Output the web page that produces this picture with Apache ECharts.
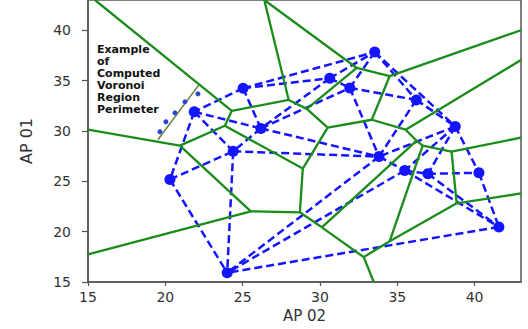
<!DOCTYPE html>
<html><head><meta charset="utf-8">
<script src="https://cdn.jsdelivr.net/npm/echarts@6/dist/echarts.min.js"></script>
<style>html,body{margin:0;padding:0;background:#fff}#c{width:528px;height:329px}</style>
</head><body><div id="c"></div>
<script>
// Access points (AP 02 = x, AP 01 = y), numbered 1..16
const apX = [33.54,30.63,31.93,25.03,36.23,21.87,26.18,38.75,24.39,33.82,20.30,35.48,36.98,40.28,41.57,24.00];
const apY = [37.83,35.23,34.27,34.24,33.08,31.90,30.25,30.45,27.98,27.45,25.18,26.07,25.74,25.84,20.47,15.92];
// Delaunay edges (1-based point numbers)
const delaunayEdges = [[4,1],[4,2],[2,1],[3,1],[2,3],[2,7],[4,7],[4,6],[6,7],[6,9],[7,9],[6,11],[11,9],[11,16],[9,16],[9,10],[7,10],[7,3],[3,10],[3,5],[1,5],[5,10],[5,8],[8,10],[10,12],[8,12],[8,13],[12,13],[8,14],[13,14],[14,15],[13,15],[12,15],[15,16],[12,16],[10,16],[1,8]];
// Voronoi vertices (incl. clipped ray ends)
const vorX = [26.40,27.98,29.15,32.38,34.51,33.35,35.54,36.25,36.64,38.51,38.84,34.51,32.83,30.12,28.70,28.89,30.50,23.85,24.30,20.94,25.53,15.45,15.00,15.00,33.48,43.00,43.00,43.00,43.00];
const vorY = [43.00,33.08,32.19,36.25,35.45,31.11,30.12,29.03,28.54,27.94,22.81,19.05,17.47,20.43,21.92,26.26,30.32,30.51,32.00,28.54,22.02,43.00,30.12,17.74,15.00,23.79,29.33,37.04,40.00];
// Voronoi edges (0-based vertex indices)
const vorEdges = [[0,1],[0,3],[1,2],[1,18],[2,3],[2,16],[3,4],[4,5],[4,28],[5,16],[5,6],[6,27],[6,7],[7,8],[7,13],[8,9],[8,11],[9,26],[9,10],[10,25],[10,11],[11,12],[12,24],[12,13],[13,14],[14,15],[14,20],[15,16],[15,17],[17,18],[17,19],[18,21],[19,22],[19,20],[20,23]];
// Example perimeter illustration
const exampleEdgeX = [19.52,22.17];
const exampleEdgeY = [29.13,34.57];
const perimDotX = [19.65,20.04,20.62,21.27,22.11];
const perimDotY = [29.92,30.91,31.80,32.89,33.68];
// Axis ticks
const xTicks = [15,20,25,30,35,40];
const yTicks = [15,20,25,30,35,40];
const xName = 'AP 02';
const yName = 'AP 01';
const noteText = 'Example\nof\nComputed\nVoronoi\nRegion\nPerimeter';

const chart = echarts.init(document.getElementById('c'), null, {renderer:'svg'});
const font = 'DejaVu Sans';
const delaunayData = delaunayEdges.map(([a,b]) => ({coords:[[apX[a-1],apY[a-1]],[apX[b-1],apY[b-1]]]}));
const vorData = vorEdges.map(([a,b]) => ({coords:[[vorX[a],vorY[a]],[vorX[b],vorY[b]]]}));
const pts = apX.map((x,i)=>[x,apY[i]]);
const dots = perimDotX.map((x,i)=>[x,perimDotY[i]]);

function axis(name, ticks, tickLen, margin, gap, nameSize){
  return {
    type:'value', min:15, max:43, interval:5,
    name:name, nameLocation:'middle', nameGap:gap,
    nameTextStyle:{fontSize:nameSize,color:'#333',fontFamily:font},
    axisLine:{show:true,onZero:false,lineStyle:{color:'#555',width:1.5}},
    axisTick:{show:true,length:tickLen,customValues:ticks,lineStyle:{color:'#555',width:1.2}},
    axisLabel:{customValues:ticks,margin:margin,fontSize:14,color:'#333',fontFamily:font},
    splitLine:{show:false}
  };
}

chart.setOption({
  animation:false,
  grid:{left:88,right:7,top:-1,bottom:47,show:true,borderColor:'#555',borderWidth:1.5},
  xAxis: axis(xName, xTicks, 4, 8, 22, 15),
  yAxis: axis(yName, yTicks, 6, 17, 54, 16),
  series:[
    {type:'lines', coordinateSystem:'cartesian2d', clip:true, silent:true, z:2,
     data:delaunayData, lineStyle:{color:'#1414ff',width:2.5,type:[8,4],opacity:1}},
    {type:'lines', coordinateSystem:'cartesian2d', clip:true, silent:true, z:3,
     data:vorData, lineStyle:{color:'#1a8c1a',width:2.3,opacity:1}},
    {type:'lines', coordinateSystem:'cartesian2d', clip:true, silent:true, z:3,
     data:[{coords:[[exampleEdgeX[0],exampleEdgeY[0]],[exampleEdgeX[1],exampleEdgeY[1]]]}],
     lineStyle:{color:'#667f40',width:1.5,opacity:1}},
    {type:'scatter', data:pts, symbolSize:11, itemStyle:{color:'#1414ff',opacity:1}, z:5, silent:true},
    {type:'scatter', data:dots, symbolSize:5, itemStyle:{color:'#2f45d0',opacity:1}, z:5, silent:true}
  ],
  graphic:[{type:'text', left:97, top:43, z:10,
    style:{text:noteText, font:'bold 11px "DejaVu Sans"', fill:'#111', lineHeight:12}}]
});
</script></body></html>
